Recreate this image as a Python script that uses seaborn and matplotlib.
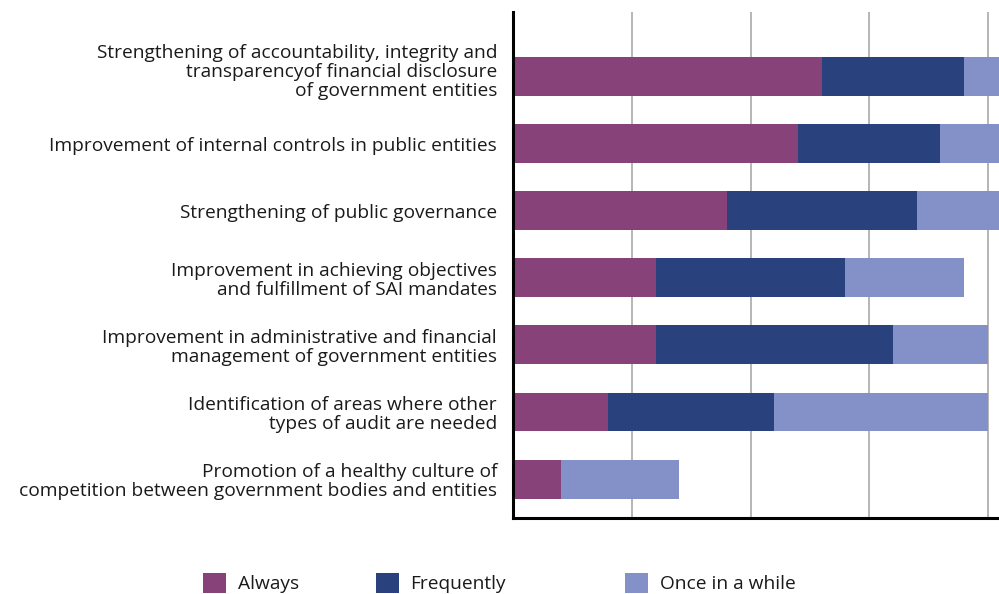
import matplotlib
matplotlib.use("Agg")
import matplotlib.pyplot as plt
import matplotlib.transforms as mtransforms
from matplotlib.patches import Patch
import seaborn as sns
import pandas as pd
import numpy as np

# Benefits of audits and how often each one is reported
categories = [
    "Strengthening of accountability, integrity and\ntransparencyof financial disclosure\nof government entities",
    "Improvement of internal controls in public entities",
    "Strengthening of public governance",
    "Improvement in achieving objectives\nand fulfillment of SAI mandates",
    "Improvement in administrative and financial\nmanagement of government entities",
    "Identification of areas where other\ntypes of audit are needed",
    "Promotion of a healthy culture of\ncompetition between government bodies and entities",
]
always = [13, 12, 9, 6, 6, 4, 2]
frequently = [6, 6, 8, 8, 10, 7, 0]
once_in_a_while = [2, 3, 4, 5, 4, 9, 5]

series_names = ["Always", "Frequently", "Once in a while"]
colors = ["#87427A", "#29417C", "#8491C8"]

df = pd.DataFrame({
    "category": categories,
    "Always": always,
    "Frequently": frequently,
    "Once in a while": once_in_a_while,
})
cum = df[series_names].cumsum(axis=1)

sns.set_theme(style="white")
plt.rcParams["font.family"] = ["Open Sans", "DejaVu Sans"]

fig = plt.figure(figsize=(9.99, 5.94), dpi=100)
ax = fig.add_axes([513 / 999, 1 - 518 / 594, 21 * 23.75 / 999, 506 / 594])

# Stacked bars: draw the running totals from the longest down
for name, color in reversed(list(zip(series_names, colors))):
    sns.barplot(x=cum[name], y=df["category"], orient="h", color=color,
                width=0.58, saturation=1, linewidth=0, ax=ax, zorder=2)

ax.set_xlim(0, 21)
ax.set_ylim(6.58, -0.96)
ax.set_xticks([0, 5, 10, 15, 20])
ax.set_xticklabels([])
ax.set_xlabel("")
ax.set_ylabel("")
ax.grid(axis="x", color="#b5b5b5", linewidth=1.4, zorder=0)
ax.set_axisbelow(True)
ax.tick_params(axis="both", length=0)
ax.tick_params(axis="y", pad=11.5, labelsize=13.8, labelcolor="#1a1a1a")
for side in ["top", "right"]:
    ax.spines[side].set_visible(False)
for side in ["left", "bottom"]:
    ax.spines[side].set_color("black")
    ax.spines[side].set_linewidth(2.2)
    ax.spines[side].set_zorder(5)
labels = ax.get_yticklabels()
for lab in labels:
    lab.set_linespacing(1.08)
# the three-line label sits slightly above its bar
labels[0].set_transform(labels[0].get_transform()
                        + mtransforms.ScaledTranslation(0, 0.07, fig.dpi_scale_trans))

# Legend entries along the bottom edge
legend_x = [203, 376, 625]
for name, color, xpx in zip(series_names, colors, legend_x):
    leg = fig.legend(handles=[Patch(facecolor=color, edgecolor="none", label=name)],
                     loc="center left", bbox_to_anchor=(xpx / 999, 1 - 583 / 594),
                     frameon=False, borderpad=0, borderaxespad=0,
                     handlelength=1.2, handleheight=1.2, handletextpad=0.6,
                     fontsize=13.8)
    for t in leg.get_texts():
        t.set_color("#1a1a1a")

fig.savefig("out.png", dpi=100)
